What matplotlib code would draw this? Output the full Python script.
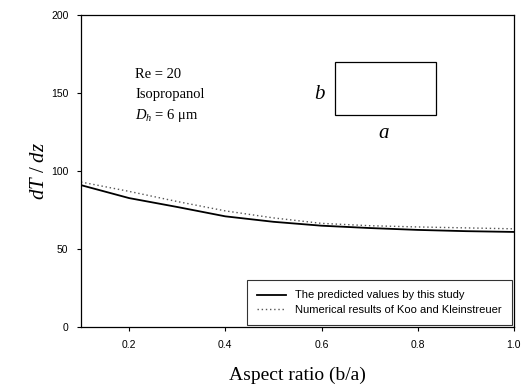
import numpy as np
import matplotlib.pyplot as plt
from matplotlib.patches import Rectangle

# values
aspect_ratio = [0.1, 0.2, 0.3, 0.4, 0.5, 0.6, 0.7, 0.8, 0.9, 1.0]
predicted = [91, 82.7, 77, 71, 67.5, 65, 63.5, 62.3, 61.5, 61]
numerical = [93, 87, 80.5, 74.5, 70, 66.5, 65, 64.2, 63.6, 63]

x_ticks = [0.2, 0.4, 0.6, 0.8, 1.0]
x_ticklabels = ['0.2', '0.4', '0.6', '0.8', '1.0']
y_ticks = [0, 50, 100, 150, 200]

serif = 'Liberation Serif'
sans = 'Liberation Sans'

plt.rcParams['mathtext.fontset'] = 'custom'
plt.rcParams['mathtext.rm'] = serif
plt.rcParams['mathtext.it'] = serif + ':italic'

fig = plt.figure(figsize=(5.26, 3.88), dpi=100)
ax = fig.add_axes([0.154, 0.157, 0.823, 0.804])

ax.plot(aspect_ratio, predicted, '-', color='black', linewidth=1.3,
        label='The predicted values by this study')
ax.plot(aspect_ratio, numerical, linestyle=(0, (1, 2)), color='#555555',
        linewidth=1.0, label='Numerical results of Koo and Kleinstreuer')

ax.set_xlim(0.1, 1.0)
ax.set_ylim(0, 200)
ax.set_xticks(x_ticks)
ax.set_xticklabels(x_ticklabels, fontname=sans, fontsize=7.5)
ax.set_yticks(y_ticks)
ax.set_yticklabels([str(v) for v in y_ticks], fontname=sans, fontsize=7.5)
ax.tick_params(direction='out', length=3, width=0.8, pad=6)

for s in ax.spines.values():
    s.set_linewidth(0.9)

ax.set_xlabel('Aspect ratio (b/a)', fontname=serif, fontsize=14, labelpad=12)
ax.set_ylabel(r'$dT\ /\ dz$', fontsize=15, labelpad=2)

# annotations
ax.text(0.125, 0.81, 'Re = 20', transform=ax.transAxes, fontname=serif,
        fontsize=10.5, va='center')
ax.text(0.125, 0.745, 'Isopropanol', transform=ax.transAxes, fontname=serif,
        fontsize=10.5, va='center')
ax.text(0.125, 0.678, r'$D_h$ = 6 $\mathrm{\mu}$m', transform=ax.transAxes,
        fontname=serif, fontsize=10.5, va='center')

# channel cross-section sketch
ax.add_patch(Rectangle((0.587, 0.680), 0.233, 0.170, transform=ax.transAxes,
                       fill=False, edgecolor='black', linewidth=0.9))
ax.text(0.55, 0.745, 'b', transform=ax.transAxes, fontname=serif,
        fontstyle='italic', fontsize=15, ha='center', va='center')
ax.text(0.70, 0.622, 'a', transform=ax.transAxes, fontname=serif,
        fontstyle='italic', fontsize=15, ha='center', va='center')

leg = ax.legend(loc='lower right', prop={'family': sans, 'size': 8},
                frameon=True, fancybox=False, edgecolor='black',
                handlelength=2.6, borderaxespad=0.2, borderpad=0.9,
                labelspacing=0.4)
leg.get_frame().set_linewidth(0.8)

fig.savefig('out.png', dpi=100)
